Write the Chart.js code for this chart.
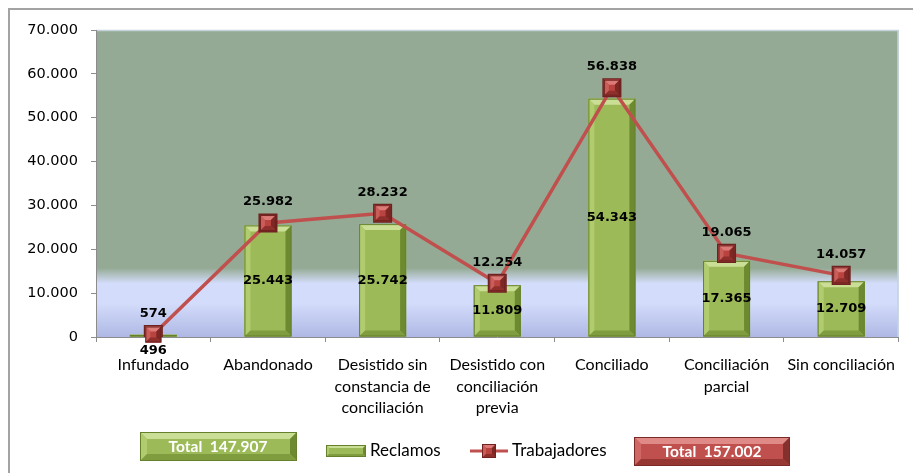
<!DOCTYPE html>
<html>
<head>
<meta charset="utf-8">
<script src="https://cdn.jsdelivr.net/npm/chart.js@4"></script>
<style>
  html, body { margin: 0; padding: 0; background: #fff; }
  #wrap { width: 913px; height: 473px; }
</style>
</head>
<body>
<div id="wrap"><canvas id="chart" width="913" height="473"></canvas></div>
<script>
// categories (multi-line labels as in the original)
const categories = [
  ['Infundado'],
  ['Abandonado'],
  ['Desistido sin', 'constancia de', 'conciliación'],
  ['Desistido con', 'conciliación', 'previa'],
  ['Conciliado'],
  ['Conciliación', 'parcial'],
  ['Sin conciliación'],
];
const reclamos = [496, 25443, 25742, 11809, 54343, 17365, 12709];
const trabajadores = [574, 25982, 28232, 12254, 56838, 19065, 14057];
const yMax = 70000;
const yStep = 10000;

function fmt(n){
  return String(n).replace(/\B(?=(\d{3})+(?!\d))/g, '.');
}
const sum = arr => arr.reduce((a, b) => a + b, 0);

// bevelled box, used for bars, legend swatch and total boxes
function bevelBox(ctx, l, t, r, b, c, size){
  const h = b - t, w = r - l;
  const s = Math.max(0, Math.min(size, h / 2, w / 2));
  ctx.save();
  ctx.fillStyle = c.face;
  ctx.fillRect(l, t, w, h);
  ctx.beginPath(); ctx.moveTo(l, t); ctx.lineTo(r, t); ctx.lineTo(r - s, t + s); ctx.lineTo(l + s, t + s); ctx.closePath();
  ctx.fillStyle = c.top; ctx.fill();
  ctx.beginPath(); ctx.moveTo(l, t); ctx.lineTo(l + s, t + s); ctx.lineTo(l + s, b - s); ctx.lineTo(l, b); ctx.closePath();
  ctx.fillStyle = c.left; ctx.fill();
  ctx.beginPath(); ctx.moveTo(r, t); ctx.lineTo(r - s, t + s); ctx.lineTo(r - s, b - s); ctx.lineTo(r, b); ctx.closePath();
  ctx.fillStyle = c.right; ctx.fill();
  ctx.beginPath(); ctx.moveTo(l, b); ctx.lineTo(l + s, b - s); ctx.lineTo(r - s, b - s); ctx.lineTo(r, b); ctx.closePath();
  ctx.fillStyle = c.bottom; ctx.fill();
  ctx.strokeStyle = c.edge; ctx.lineWidth = 1;
  ctx.strokeRect(l + 0.5, t + 0.5, w - 1, h - 1);
  ctx.restore();
}

const greenBevel = { face: '#9CBB58', top: '#CADF95', left: '#B1CC6E', right: '#6E8A31', bottom: '#7F9C3E', edge: '#66812C' };
const redBevel = { face: '#C0504D', top: '#E08A87', left: '#CF6865', right: '#86302D', bottom: '#973734', edge: '#7C2A28' };
const markerBevel = { face: '#B9433F', top: '#DC7A77', left: '#C95D5A', right: '#7E2826', bottom: '#8E2F2C', edge: '#6F2220' };

const chromePlugin = {
  id: 'chrome',
  beforeDraw(chart){
    const { ctx, chartArea: a } = chart;
    ctx.save();
    ctx.fillStyle = '#fff';
    ctx.fillRect(0, 0, chart.width, chart.height);
    ctx.strokeStyle = '#a3a3a3';
    ctx.lineWidth = 2;
    ctx.strokeRect(9, 9, chart.width + 10, chart.height + 10);
    const g = ctx.createLinearGradient(0, a.top, 0, a.bottom);
    g.addColorStop(0, '#94AA94');
    g.addColorStop(0.775, '#94AA94');
    g.addColorStop(0.825, '#D3DCFA');
    g.addColorStop(0.89, '#D3DCFA');
    g.addColorStop(1, '#AFB8E4');
    ctx.fillStyle = g;
    ctx.fillRect(a.left, a.top, a.right - a.left, a.bottom - a.top);
    ctx.strokeStyle = '#c3d2da';
    ctx.lineWidth = 1.5;
    ctx.beginPath();
    ctx.moveTo(a.left, a.top + 0.5); ctx.lineTo(a.right - 0.5, a.top + 0.5); ctx.lineTo(a.right - 0.5, a.bottom);
    ctx.stroke();
    ctx.restore();
  },
  afterDatasetDraw(chart, args){
    const ctx = chart.ctx;
    const meta = args.meta;
    if (args.index === 0) {
      meta.data.forEach(el => {
        const p = el.getProps(['x', 'y', 'base', 'width'], true);
        bevelBox(ctx, p.x - p.width / 2, p.y, p.x + p.width / 2, p.base, greenBevel, 6);
      });
    } else {
      meta.data.forEach(el => {
        const p = el.getProps(['x', 'y'], true);
        bevelBox(ctx, p.x - 8, p.y - 8, p.x + 8, p.y + 8, markerBevel, 5);
      });
    }
  },
  afterDatasetsDraw(chart){
    const ctx = chart.ctx;
    ctx.save();
    ctx.fillStyle = '#000';
    ctx.font = 'bold 13px "DejaVu Sans"';
    ctx.textAlign = 'center';
    ctx.textBaseline = 'middle';
    chart.getDatasetMeta(0).data.forEach((el, i) => {
      const p = el.getProps(['x', 'y', 'base'], true);
      const y = (p.base - p.y) < 18 ? p.base + 14 : (p.y + p.base) / 2;
      ctx.fillText(fmt(reclamos[i]), p.x, y);
    });
    chart.getDatasetMeta(1).data.forEach((el, i) => {
      const p = el.getProps(['x', 'y'], true);
      ctx.fillText(fmt(trabajadores[i]), p.x, p.y - 21);
    });
    ctx.restore();
  },
  afterDraw(chart){
    const ctx = chart.ctx;
    ctx.save();
    // total boxes
    bevelBox(ctx, 140, 432, 297, 461, greenBevel, 7);
    bevelBox(ctx, 634, 437, 790, 466, redBevel, 7);
    ctx.fillStyle = '#fff';
    ctx.font = 'bold 15.5px Lato';
    ctx.textAlign = 'center';
    ctx.textBaseline = 'middle';
    ctx.fillText('Total  ' + fmt(sum(reclamos)), 218, 447);
    ctx.fillText('Total  ' + fmt(sum(trabajadores)), 712, 452);
    // legend
    bevelBox(ctx, 326, 445, 366, 457, greenBevel, 3);
    ctx.strokeStyle = '#C0504D';
    ctx.lineWidth = 3;
    ctx.beginPath(); ctx.moveTo(470, 451); ctx.lineTo(508, 451); ctx.stroke();
    bevelBox(ctx, 482, 444, 496, 458, markerBevel, 4);
    ctx.fillStyle = '#000';
    ctx.font = '17px Lato';
    ctx.textAlign = 'left';
    ctx.fillText('Reclamos', 370, 451);
    ctx.fillText('Trabajadores', 512, 451);
    ctx.restore();
  }
};

new Chart(document.getElementById('chart'), {
  type: 'bar',
  data: {
    labels: categories,
    datasets: [
      {
        label: 'Reclamos',
        data: reclamos,
        backgroundColor: '#9BBB59',
        barPercentage: 0.82,
        categoryPercentage: 0.5,
        order: 2,
      },
      {
        type: 'line',
        label: 'Trabajadores',
        data: trabajadores,
        borderColor: '#C0504D',
        borderWidth: 3.5,
        pointStyle: 'rect',
        pointRadius: 11,
        pointBackgroundColor: '#B9433F',
        pointBorderColor: '#6F2220',
        tension: 0,
        order: 1,
      },
    ],
  },
  options: {
    responsive: false,
    devicePixelRatio: 1,
    animation: false,
    layout: { padding: { top: 30, right: 7, left: 0, bottom: 0 } },
    plugins: { legend: { display: false }, tooltip: { enabled: false } },
    scales: {
      x: {
        offset: true,
        grid: { display: true, drawOnChartArea: false, offset: true, color: '#8c8c8c', tickLength: 5 },
        border: { color: '#8c8c8c', width: 1 },
        ticks: { color: '#000', font: { family: 'Lato', size: 16, lineHeight: 1.35 }, padding: 12, maxRotation: 0, autoSkip: false },
        afterFit(scale){ scale.height = 136; },
      },
      y: {
        min: 0,
        max: yMax,
        grid: { display: true, drawOnChartArea: false, color: '#8c8c8c', tickLength: 5 },
        border: { color: '#8c8c8c', width: 1 },
        ticks: { stepSize: yStep, color: '#000', font: { family: 'DejaVu Sans', size: 14.5 }, padding: 13, callback: v => fmt(v) },
        afterFit(scale){ scale.width = 96; },
      },
    },
  },
  plugins: [chromePlugin],
});
</script>
</body>
</html>
